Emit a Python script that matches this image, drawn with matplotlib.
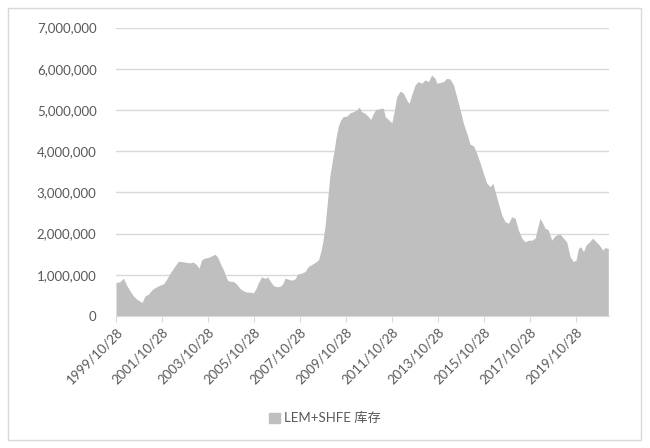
import matplotlib
matplotlib.use('Agg')
import matplotlib.pyplot as plt
from matplotlib.patches import Rectangle, Patch
from matplotlib.ticker import FuncFormatter
import numpy as np

plt.rcParams['font.family'] = ['Lato', 'Noto Sans CJK SC', 'DejaVu Sans']

# decimal year of each reading (weekly series)
years = [1999.82, 1999.99, 2000.14, 2000.28, 2000.43, 2000.57, 2000.72, 2000.86, 2000.96,
         2001.08, 2001.23, 2001.37, 2001.52, 2001.73, 2001.88, 2002.02, 2002.17, 2002.34,
         2002.53, 2002.68, 2002.89, 2003.04, 2003.18, 2003.33, 2003.43, 2003.54, 2003.69,
         2003.83, 2003.98, 2004.12, 2004.23, 2004.37, 2004.52, 2004.66, 2004.78, 2004.92,
         2005.07, 2005.21, 2005.36, 2005.50, 2005.65, 2005.79, 2005.89, 2006.01, 2006.15,
         2006.30, 2006.41, 2006.54, 2006.66, 2006.81, 2006.95, 2007.07, 2007.17, 2007.31,
         2007.46, 2007.60, 2007.72, 2007.89, 2008.04, 2008.18, 2008.33, 2008.47, 2008.62,
         2008.72, 2008.81, 2008.91, 2009.01, 2009.12, 2009.23, 2009.31, 2009.39, 2009.49,
         2009.59, 2009.70, 2009.85, 2009.99, 2010.14, 2010.28, 2010.39, 2010.50, 2010.65,
         2010.79, 2010.89, 2011.01, 2011.12, 2011.22, 2011.30, 2011.44, 2011.52, 2011.66,
         2011.81, 2011.91, 2012.02, 2012.17, 2012.31, 2012.46, 2012.56, 2012.67, 2012.82,
         2012.96, 2013.11, 2013.25, 2013.40, 2013.54, 2013.69, 2013.76, 2013.91, 2014.05,
         2014.20, 2014.34, 2014.49, 2014.63, 2014.78, 2014.92, 2015.07, 2015.21, 2015.36,
         2015.50, 2015.65, 2015.79, 2015.94, 2016.08, 2016.20, 2016.30, 2016.44, 2016.59,
         2016.73, 2016.88, 2017.02, 2017.17, 2017.31, 2017.46, 2017.60, 2017.75, 2017.89,
         2018.04, 2018.14, 2018.25, 2018.37, 2018.47, 2018.61, 2018.76, 2018.86, 2018.98,
         2019.12, 2019.27, 2019.41, 2019.56, 2019.70, 2019.82, 2019.92, 2020.02, 2020.14,
         2020.25, 2020.40, 2020.54, 2020.69, 2020.83, 2020.98, 2021.08, 2021.22]

# stock, million
stock = [0.81, 0.83, 0.92, 0.75, 0.61, 0.49, 0.41, 0.36, 0.33,
         0.49, 0.53, 0.63, 0.69, 0.75, 0.78, 0.89, 1.04, 1.18,
         1.33, 1.32, 1.30, 1.29, 1.31, 1.24, 1.16, 1.36, 1.41,
         1.42, 1.46, 1.50, 1.44, 1.26, 1.08, 0.87, 0.84, 0.84,
         0.77, 0.67, 0.61, 0.58, 0.58, 0.56, 0.65, 0.81, 0.95,
         0.91, 0.95, 0.83, 0.74, 0.71, 0.72, 0.78, 0.92, 0.89,
         0.87, 0.90, 1.02, 1.04, 1.08, 1.20, 1.25, 1.30, 1.36,
         1.56, 1.80, 2.20, 2.78, 3.42, 3.79, 4.05, 4.35, 4.62,
         4.76, 4.84, 4.85, 4.93, 4.96, 5.00, 5.07, 4.96, 4.92,
         4.84, 4.77, 4.92, 5.02, 5.02, 5.04, 5.04, 4.84, 4.77,
         4.69, 4.96, 5.32, 5.46, 5.41, 5.24, 5.16, 5.36, 5.61,
         5.69, 5.65, 5.73, 5.69, 5.85, 5.77, 5.65, 5.67, 5.69,
         5.77, 5.75, 5.61, 5.32, 5.00, 4.68, 4.43, 4.17, 4.13,
         3.95, 3.71, 3.46, 3.22, 3.14, 3.22, 3.02, 2.74, 2.45,
         2.29, 2.25, 2.41, 2.37, 2.09, 1.89, 1.80, 1.84, 1.84,
         1.89, 2.13, 2.37, 2.25, 2.13, 2.09, 1.84, 1.92, 1.97,
         1.99, 1.89, 1.80, 1.44, 1.32, 1.36, 1.64, 1.68, 1.56,
         1.72, 1.80, 1.89, 1.80, 1.72, 1.60, 1.66, 1.64]

tick_years = [1999.82 + 2 * k for k in range(11)]
tick_labels = ['%d/10/28' % (1999 + 2 * k) for k in range(11)]
series_name = 'LEM+SHFE 库存'

fig = plt.figure(figsize=(6.5, 4.48), dpi=100)
ax = fig.add_axes([116 / 650, 1 - 316 / 448, 493 / 650, 288.4 / 448])

vals = np.array(stock) * 1e6
ax.fill_between(years, 0, vals, color='#bfbfbf', lw=0)

ax.set_xlim(1999.82, 2021.25)
ax.set_ylim(0, 7e6)
ax.set_yticks(np.arange(0, 7.5e6, 1e6))
ax.yaxis.set_major_formatter(FuncFormatter(lambda v, p: '{:,.0f}'.format(v)))
ax.grid(axis='y', color='#d9d9d9', lw=1)
ax.set_axisbelow(True)
for s in ['top', 'right', 'left']:
    ax.spines[s].set_visible(False)
ax.spines['bottom'].set_color('#d9d9d9')
ax.tick_params(axis='y', length=0, pad=14, labelsize=9.5, labelcolor='#595959')

ax.set_xticks(tick_years)
ax.set_xticklabels(tick_labels, rotation=45, ha='right', rotation_mode='anchor')
ax.tick_params(axis='x', length=4, color='#d9d9d9', pad=3, labelsize=9.5, labelcolor='#595959')

fig.legend(handles=[Patch(color='#bfbfbf', label=series_name)], loc='center',
           bbox_to_anchor=(0.5, 1 - 418 / 448), frameon=False, handlelength=0.8,
           handleheight=0.8, handletextpad=0.3, fontsize=9.5, labelcolor='#595959')

fig.patches.append(Rectangle((8 / 650, 8 / 448), 633 / 650, 432 / 448, transform=fig.transFigure,
                             fill=False, edgecolor='#d9d9d9', lw=1))

fig.savefig('out.png', dpi=100)
